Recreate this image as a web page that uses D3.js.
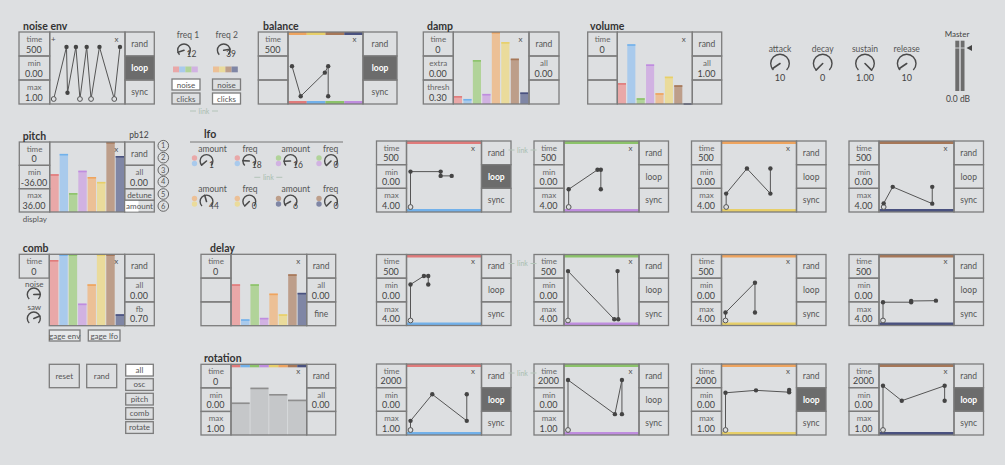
<!DOCTYPE html>
<html><head><meta charset="utf-8">
<script src="https://cdn.jsdelivr.net/npm/d3@7"></script>
<style>
html,body{margin:0;padding:0;background:#dddfe1;}
svg{display:block;font-family:Lato,"Open Sans",sans-serif;}
</style></head><body>
<script>
var W = 1005, H = 465
var ink = "#7c7c7c"

// eight voice colours: line colour + lighter fill
var colors = ["#e07b7b","#72b1ea","#8cc36a","#bf8ddf","#eea45f","#e7cf69","#a67758","#49517f"]
var fills  = ["#e9a8a8","#a9caec","#b1d399","#d1b2e2","#ecc096","#eadb9b","#bd9e8a","#7f86a5"]

// breakpoint panels, [time 0..1, value 0..1]
var noiseEnvPts = [[0,0],[0.19,0.84],[0.205,0.10],[0.33,0.84],[0.39,0],[0.49,0.84],[0.555,0],[0.68,0.84],[0.90,0],[0.985,0.84]]
var balancePts = [[0,0.53],[0.13,0.045],[0.49,0.425],[0.54,0.53],[0.54,0.045]]

// multislider panels, 0..1
var dampValues   = [0.11,0.07,0.61,0.14,1.00,0.86,0.63,0.16]
var volumeValues = [0.29,0.83,0.08,0.55,0.15,0.38,0.26,0.01]
var pitchValues  = [0.54,0.83,0.27,0.59,0.50,0.43,1.00,0.80]
var combValues   = [0.92,1.00,1.00,0.31,0.58,1.00,1.00,0.16]
var delayValues  = [0.58,0.09,0.58,0.11,0.45,0.16,0.72,0.46]
var rotationValues = [0.46,0.67,0.58,0.50]

// the 3x4 grid of envelopes
var envRow1 = [
  [[0,0],[0,0.58],[0.45,0.58],[0.45,0.51],[0.615,0.51]],
  [[0.01,0],[0.01,0.29],[0.44,0.61],[0.49,0.61],[0.49,0.29]],
  [[0.01,0],[0.01,0.22],[0.32,0.63],[0.67,0.22],[0.67,0.63]],
  [[0.01,0],[0.01,0.06],[0.145,0.33],[0.735,0.055],[0.735,0.33]]
]
var envRow2 = [
  [[0,0],[0,0.59],[0.2,0.73],[0.265,0.73],[0.265,0.59]],
  [[0,0],[0,0.81],[0.69,0.02],[0.75,0.02],[0.74,0.81]],
  [[0,0],[0,0.13],[0.44,0.62],[0.44,0.13]],
  [[0,0],[0,0.30],[0.42,0.30],[0.42,0.32],[0.79,0.325]]
]
var envRow3 = [
  [[0,0],[0,0.15],[0.325,0.585],[0.84,0.15],[0.84,0.585]],
  [[0,0],[0,0.82],[0.70,0.26],[0.805,0.82],[0.805,0.26]],
  [[0,0],[0,0.61],[0.455,0.65],[0.95,0.62],[0.95,0.655]],
  [[0,0],[0,0.725],[0.28,0.48],[0.92,0.725],[0.92,0.48]]
]
var envTime = ["500","500","2000"]
var envMax  = ["4.00","4.00","1.00"]
var envLoop = [[1,0,0,0],[0,0,0,0],[1,0,1,1]]
var envTop = [0,2,4,6]
var envBottom = [1,3,5,7]

var adsrNames  = ["attack","decay","sustain","release"]
var adsrValues = ["10","0","1.00","10"]
var adsrPos    = [0.04,0,1,0.04]

var lfoNames = ["amount","freq","amount","freq"]
var lfoRow1 = ["1","18","16","0"]
var lfoRow2 = ["44","0","6","0"]
var lfoPos1 = [0.02,0.18,0.16,0]
var lfoPos2 = [0.44,0,0.06,0]
var lfoDots1 = [[0,1],[0,1],[2,3],[2,3]]
var lfoDots2 = [[4,5],[4,5],[6,7],[6,7]]

var svg = d3.select("body").append("svg").attr("width", W).attr("height", H)
svg.append("rect").attr("width", W).attr("height", H).attr("fill", "#dddfe1")

function txt(g, x, y, s, o) {
  o = o || {}
  return g.append("text").attr("x", x).attr("y", y).text(s)
    .attr("font-size", o.size || 8.5)
    .attr("fill", o.fill || "#4a4a4a")
    .attr("font-weight", o.weight || 400)
    .attr("text-anchor", o.anchor || "middle")
}
function title(x, y, s) { txt(svg, x, y, s, {size: 10.5, weight: 700, fill: "#333", anchor: "start"}) }
function box(g, x, y, w, h, fill) {
  return g.append("rect").attr("x", x).attr("y", y).attr("width", w).attr("height", h)
    .attr("fill", fill || "none").attr("stroke", ink).attr("stroke-width", 1.3)
}

function cell(g, x, y, w, h, c) {
  var on = c && c.on
  box(g, x, y, w, h, on ? "#6c6c6c" : (c && c.white ? "#fff" : "none"))
  if (!c) return
  var cx = x + w / 2, cy = y + h / 2
  if (c.t) c = c.t
  if (typeof c === "string") {
    txt(g, cx, cy + 3, c, {size: 8.5, fill: on ? "#fff" : "#555", weight: on ? 700 : 400})
  } else {
    txt(g, cx, cy - 2, c[0], {size: 8, fill: "#666"})
    txt(g, cx - 0.5, cy + 8.5, c[1], {size: 9, fill: "#444"})
  }
}

function xMark(g, x2, y1) { txt(g, x2 - 8.5, y1 + 9.5, "x", {size: 8, fill: "#555"}) }

function strip(g, x1, x2, y, idx) {
  var b = d3.scaleBand().domain(d3.range(idx.length)).range([x1, x2])
  g.selectAll(null).data(idx).join("rect")
    .attr("x", function(d, i) { return b(i) }).attr("y", y)
    .attr("width", b.bandwidth()).attr("height", 3)
    .attr("fill", function(d) { return colors[d] })
}

function drawEnv(pts, top, bottom, plus) {
  return function(g, x1, x2, y1, y2) {
    var x = d3.scaleLinear().domain([0, 1]).range([x1 + 4, x2 - 4])
    var y = d3.scaleLinear().domain([0, 1]).range([y2 - 5, y1 + 5])
    if (top) strip(g, x1, x2, y1, top)
    if (bottom) strip(g, x1, x2, y2 - 3, bottom)
    g.append("path").datum(pts)
      .attr("d", d3.line().x(function(d) { return x(d[0]) }).y(function(d) { return y(d[1]) }))
      .attr("fill", "none").attr("stroke", "#555").attr("stroke-width", 1)
    g.selectAll(null).data(pts).join("circle")
      .attr("cx", function(d) { return x(d[0]) }).attr("cy", function(d) { return y(d[1]) })
      .attr("r", function(d) { return d[1] === 0 ? 2.4 : 2.2 })
      .attr("fill", function(d) { return d[1] === 0 ? "#dddfe1" : "#444" })
      .attr("stroke", "#555").attr("stroke-width", function(d) { return d[1] === 0 ? 1 : 0 })
    if (plus) txt(g, x1 + 3.5, y1 + 10, "+", {size: 8, fill: "#555"})
    xMark(g, x2, y1)
  }
}

function drawBars(vals, cols, fls, pad, top) {
  return function(g, x1, x2, y1, y2) {
    var x = d3.scaleBand().domain(d3.range(vals.length)).range([x1 + 0.6, x2 - 0.6]).paddingInner(pad)
    var y = d3.scaleLinear().domain([0, 1]).range([y2, y1])
    g.selectAll("rect.bar").data(vals).join("rect").attr("class", "bar")
      .attr("x", function(d, i) { return x(i) }).attr("y", function(d) { return y(d) })
      .attr("width", x.bandwidth()).attr("height", function(d) { return y2 - y(d) })
      .attr("fill", function(d, i) { return fls[i % fls.length] })
    g.selectAll("rect.cap").data(vals).join("rect").attr("class", "cap")
      .attr("x", function(d, i) { return x(i) }).attr("y", function(d) { return y(d) })
      .attr("width", x.bandwidth()).attr("height", 1.6)
      .attr("fill", function(d, i) { return cols[i % cols.length] })
    if (top) strip(g, x1, x2, y1, top)
    xMark(g, x2, y1)
  }
}

function panel(p) {
  var g = svg.append("g")
  var x1 = p.x + p.lw, x2 = x1 + p.pw, y2 = p.y + p.h
  if (p.draw) p.draw(g, x1, x2, p.y, y2)
  box(g, x1, p.y, p.pw, p.h)
  var rh = p.rh || [p.h / 3, p.h / 3, p.h / 3]
  var yy = p.y
  p.right.forEach(function(c, i) { cell(g, x2, yy, p.rw, rh[i], c); yy += rh[i] })
  yy = p.y
  p.left.forEach(function(c) { cell(g, p.x, yy, p.lw, p.h / 3, c); yy += p.h / 3 })
  if (p.title) title(p.tx, p.y - 2.5, p.title)
  return g
}

var angle = d3.scaleLinear().domain([0, 1]).range([-0.75 * Math.PI, 0.75 * Math.PI])
function knob(cx, cy, r, f) {
  var arc = d3.arc().innerRadius(r - 0.7).outerRadius(r + 0.7)
    .startAngle(angle(0)).endAngle(angle(1))
  svg.append("path").attr("d", arc()).attr("transform", "translate(" + cx + "," + cy + ")").attr("fill", "#4a4a4a")
  var a = angle(f)
  svg.append("line").attr("x1", cx).attr("y1", cy)
    .attr("x2", cx + r * Math.sin(a)).attr("y2", cy - r * Math.cos(a))
    .attr("stroke", "#4a4a4a").attr("stroke-width", 1.6).attr("stroke-linecap", "round")
}

function link(cx, cy) {
  txt(svg, cx, cy + 2.5, "link", {size: 7, fill: "#a9bdb0"})
  svg.append("line").attr("x1", cx - 14).attr("x2", cx - 8).attr("y1", cy).attr("y2", cy).attr("stroke", "#b3c4b8")
  svg.append("line").attr("x1", cx + 8).attr("x2", cx + 14).attr("y1", cy).attr("y2", cy).attr("stroke", "#b3c4b8")
}

// ---- top row ----
panel({x: 19, y: 32, h: 72, lw: 30.7, pw: 75.3, rw: 29.3, title: "noise env", tx: 23,
  left: [["time", "500"], ["min", "0.00"], ["max", "1.00"]],
  right: ["rand", {t: "loop", on: true}, "sync"],
  draw: drawEnv(noiseEnvPts, null, null, true)})

panel({x: 258.3, y: 32, h: 72, lw: 29.7, pw: 75, rw: 34, title: "balance", tx: 263,
  left: [["time", "500"], null, null],
  right: ["rand", {t: "loop", on: true}, "sync"],
  draw: drawEnv(balancePts, [4, 5, 6, 7], [0, 1, 2, 3])})

panel({x: 423.3, y: 32, h: 72, lw: 30, pw: 75.7, rw: 30, title: "damp", tx: 427,
  left: [["time", "0"], ["extra", "0.00"], ["thresh", "0.30"]],
  right: ["rand", ["all", "0.00"], null],
  draw: drawBars(dampValues, colors, fills, 0.14)})

panel({x: 587.7, y: 32, h: 72, lw: 29.6, pw: 75, rw: 29.4, title: "volume", tx: 590,
  left: [["time", "0"], null, null],
  right: ["rand", ["all", "1.00"], null],
  draw: drawBars(volumeValues, colors, fills, 0.14)})

// freq 1 / freq 2
var freqX = [188, 226.7], freqKnobX = [184, 223.7], freqVal = ["12", "39"], freqPos = [0.1, 0.8]
var freqSw = [[0, 1, 2, 3], [4, 5, 6, 7]], freqNoiseOn = [true, false]
freqX.forEach(function(fx, k) {
  txt(svg, fx, 38, "freq " + (k + 1), {size: 8.5, fill: "#555"})
  knob(freqKnobX[k], 50.3, 6.3, freqPos[k])
  txt(svg, freqKnobX[k] + 2.5, 57, freqVal[k], {size: 8.5, fill: "#444", anchor: "start"})
  var sx = k === 0 ? 173 : 213
  svg.selectAll(null).data(freqSw[k]).join("rect")
    .attr("x", function(d, i) { return sx + i * 6.2 }).attr("y", 66.5)
    .attr("width", 6.2).attr("height", 5.8).attr("fill", function(d) { return fills[d] })
  var bx = k === 0 ? 172 : 212.5
  box(svg, bx, 79, 28, 11, freqNoiseOn[k] ? "#fff" : "none")
  txt(svg, bx + 14, 87.5, "noise", {size: 8, fill: "#555"})
  box(svg, bx, 93, 28, 11, freqNoiseOn[k] ? "none" : "#fff")
  txt(svg, bx + 14, 101.5, "clicks", {size: 8, fill: "#555"})
})
link(204, 111)

// adsr knobs
var adsrX = [780, 822.7, 865, 906.7]
adsrNames.forEach(function(n, i) {
  txt(svg, adsrX[i], 51.5, n, {size: 8.5, fill: "#555"})
  knob(adsrX[i], 63.5, 9.3, adsrPos[i])
  txt(svg, adsrX[i], 80.5, adsrValues[i], {size: 9, fill: "#444"})
})

// master meter
txt(svg, 957, 37, "Master", {size: 8, fill: "#444"})
svg.append("rect").attr("x", 955.3).attr("y", 40.7).attr("width", 4).attr("height", 50.3).attr("fill", "#6d6d6d")
svg.append("rect").attr("x", 960.7).attr("y", 40.7).attr("width", 3.8).attr("height", 50.3).attr("fill", "#6d6d6d")
svg.append("line").attr("x1", 955).attr("x2", 965).attr("y1", 48).attr("y2", 48).attr("stroke", "#cfd1d3").attr("stroke-width", 1)
svg.append("path").attr("d", "M966.5,48L972,45L972,51Z").attr("fill", "#444")
txt(svg, 958, 102, "0.0 dB", {size: 8.5, fill: "#444"})

// ---- pitch ----
panel({x: 19.3, y: 142, h: 70, lw: 30.4, pw: 75, rw: 29.6, title: "pitch", tx: 22.7,
  left: [["time", "0"], ["min", "-36.00"], ["max", "36.00"]],
  right: ["rand", ["all", "0.00"], null, null], rh: [23.3, 23.4, 11.6, 11.7],
  draw: drawBars(pitchValues, colors, fills, 0.1)})
svg.append("rect").attr("x", 125.3).attr("y", 200.9).attr("width", 13.2).attr("height", 10.6).attr("fill", "#fff")
txt(svg, 139.5, 197.5, "detune", {size: 8, fill: "#555"})
txt(svg, 139.5, 209.2, "amount", {size: 8, fill: "#555"})
txt(svg, 129.3, 138, "pb12", {size: 8.5, fill: "#444", anchor: "start"})
txt(svg, 22.7, 222, "display", {size: 8, fill: "#555", anchor: "start"})
var circY = [145.7, 157.7, 170, 181.7, 194, 206]
circY.forEach(function(cy, i) {
  svg.append("circle").attr("cx", 163.3).attr("cy", cy).attr("r", 5.3).attr("fill", "none").attr("stroke", "#666").attr("stroke-width", 1)
  txt(svg, 163.3, cy + 2.7, String(i + 1), {size: 7.5, fill: "#555"})
})

// ---- lfo ----
title(204, 138, "lfo")
svg.append("line").attr("x1", 190).attr("x2", 343).attr("y1", 142).attr("y2", 142).attr("stroke", "#777").attr("stroke-width", 1)
var lfoLabelX = [212.5, 250, 295.7, 330.7], lfoKnobX = [206.5, 249.3, 290.5, 331]
;[[151.5, 161, lfoRow1, lfoPos1, lfoDots1], [191.5, 201.5, lfoRow2, lfoPos2, lfoDots2]].forEach(function(r) {
  lfoNames.forEach(function(n, i) {
    txt(svg, lfoLabelX[i], r[0], n, {size: 8.5, fill: "#555"})
    knob(lfoKnobX[i], r[1], 6.4, r[3][i])
    txt(svg, lfoKnobX[i] + 2.5, r[1] + 7, r[2][i], {size: 8.5, fill: "#444", anchor: "start"})
    svg.selectAll(null).data(r[4][i]).join("circle")
      .attr("cx", lfoKnobX[i] - 12).attr("cy", function(d, j) { return r[1] - 3 + j * 5.5 })
      .attr("r", 2.7).attr("fill", function(d) { return fills[d] })
  })
})
link(268.3, 177.3)

// ---- comb / delay ----
panel({x: 19.3, y: 254.3, h: 71.4, lw: 30, pw: 75.4, rw: 29.6, title: "comb", tx: 22.7,
  left: [["time", "0"]],
  right: ["rand", ["all", "0.00"], ["fb", "0.70"]],
  draw: drawBars(combValues, colors, fills, 0.1)})
txt(svg, 34.3, 286.5, "noise", {size: 8, fill: "#555"})
knob(33.8, 294.5, 6.5, 0.83)
txt(svg, 34.3, 309.5, "saw", {size: 8, fill: "#555"})
knob(33.8, 318.5, 6.5, 0.75)
box(svg, 49.3, 330, 30.7, 11, "#e6e8ea")
txt(svg, 64.7, 338.5, "gage env", {size: 8, fill: "#555"})
box(svg, 88.3, 330, 31.7, 11, "#e6e8ea")
txt(svg, 104.2, 338.5, "gage lfo", {size: 8, fill: "#555"})

panel({x: 201, y: 254.3, h: 71.4, lw: 30, pw: 75.7, rw: 29, title: "delay", tx: 210,
  left: [["time", "0"], null, null],
  right: ["rand", ["all", "0.00"], "fine"],
  draw: drawBars(delayValues, colors, fills, 0.1)})

// ---- bottom left ----
box(svg, 49.3, 364.3, 30, 23.4)
txt(svg, 64.3, 379, "reset", {size: 8, fill: "#555"})
box(svg, 86.7, 364.3, 30, 23.4)
txt(svg, 101.7, 379, "rand", {size: 8, fill: "#555"})
var groupNames = ["all", "osc", "pitch", "comb", "rotate"]
var groupY = [364.3, 378.7, 393.3, 407.7, 421.7]
groupNames.forEach(function(n, i) {
  box(svg, 125.7, groupY[i], 27.6, 11.7, i === 0 ? "#fff" : "none")
  txt(svg, 139.5, groupY[i] + 8.7, n, {size: 8, fill: "#555"})
})

panel({x: 201, y: 364.3, h: 70.7, lw: 30, pw: 75.7, rw: 29, title: "rotation", tx: 204,
  left: [["time", "0"], ["min", "0.00"], ["max", "1.00"]],
  right: ["rand", ["all", "0.00"], null],
  draw: drawBars(rotationValues, ["#8e8e8e"], ["#c5c7c9"], 0.04, [0, 1, 2, 3, 5, 4, 6, 7])})

// ---- envelope grid ----
var envCols = [376.5, 534, 691.5, 849], envRows = [141, 254.5, 364]
;[envRow1, envRow2, envRow3].forEach(function(row, r) {
  row.forEach(function(pts, c) {
    panel({x: envCols[c], y: envRows[r], h: 71, lw: 30, pw: 75, rw: 29.5,
      left: [["time", envTime[r]], ["min", "0.00"], ["max", envMax[r]]],
      right: ["rand", {t: "loop", on: envLoop[r][c] === 1}, "sync"],
      draw: drawEnv(pts, [envTop[c]], [envBottom[c]])})
  })
  link(522.5, envRows[r] + 9)
})
</script></body></html>
